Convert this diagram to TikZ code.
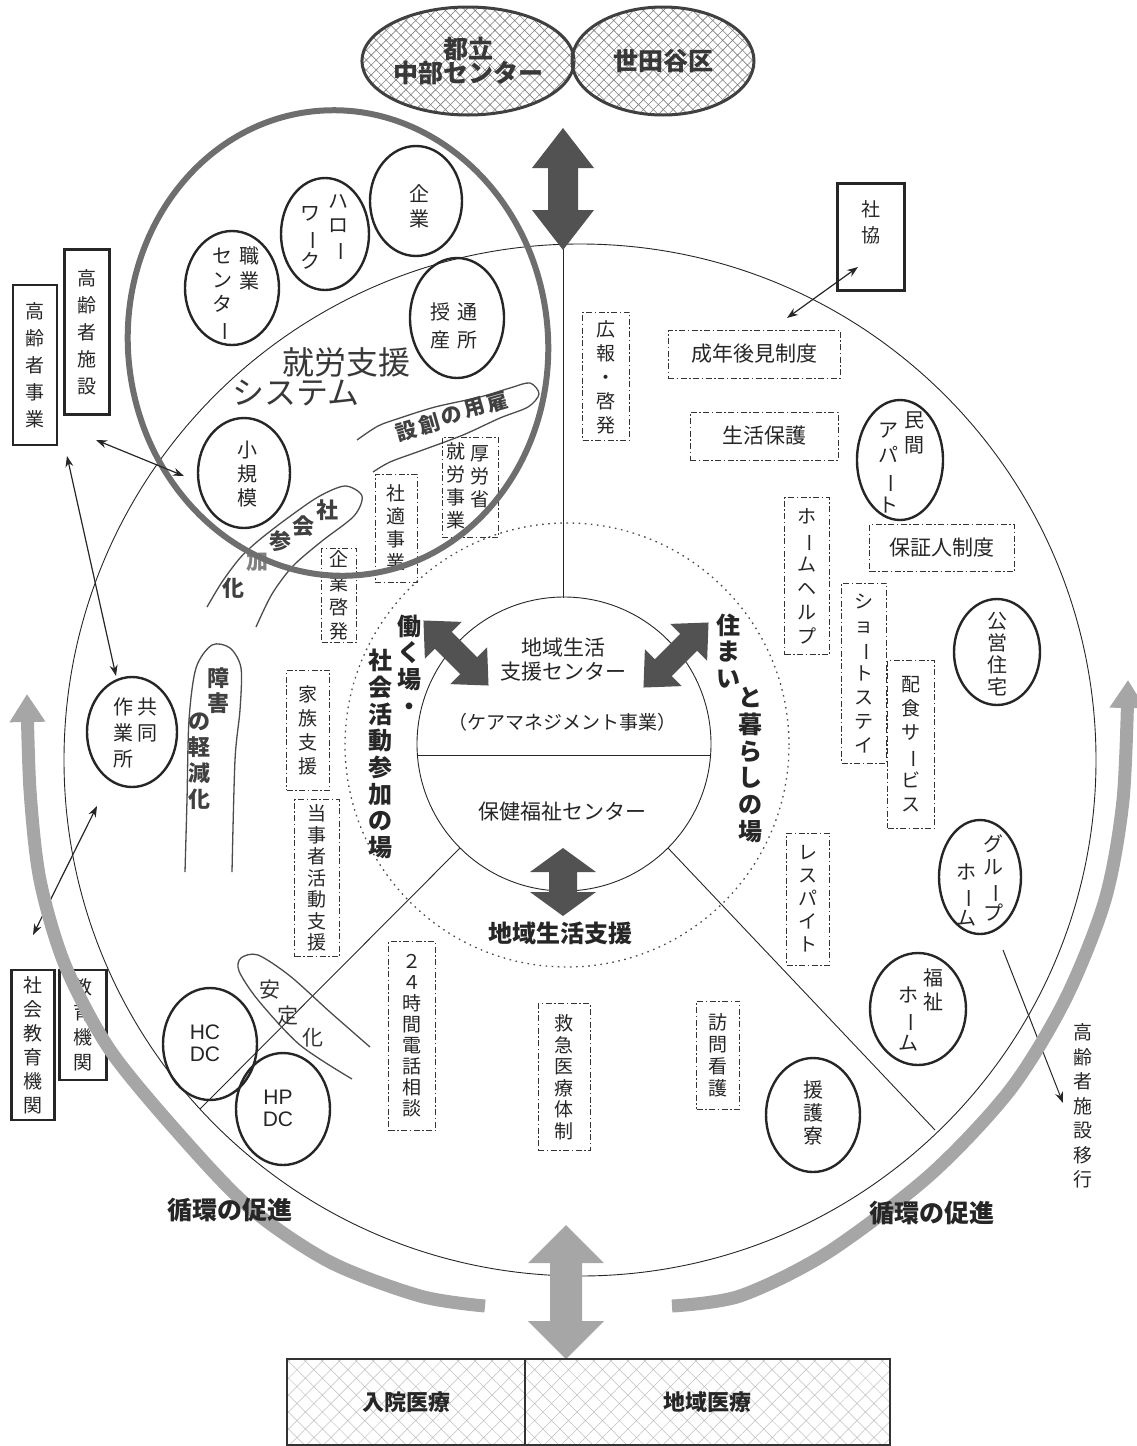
\documentclass[tikz,border=0pt]{standalone}
\usepackage{fontspec}
\usepackage{graphicx}
\usetikzlibrary{shapes.geometric,patterns.meta,arrows.meta}
\newfontfamily\jp{Noto Sans CJK JP}
\newfontfamily\lat{Liberation Sans}
% long vowel mark set upright for vertical writing
\newcommand{\cho}{\rotatebox[origin=c]{-90}{ー}}
% filled double arrow: x, y, angle, length, head length, head width, shaft width, fill
\newcommand{\DblArrow}[8]{%
  \fill[#8,shift={(#1,#2)},rotate=#3]
    ({-(#4)/2},0) -- ({-(#4)/2+(#5)},{(#6)/2}) -- ({-(#4)/2+(#5)},{(#7)/2})
    -- ({(#4)/2-(#5)},{(#7)/2}) -- ({(#4)/2-(#5)},{(#6)/2}) -- ({(#4)/2},0)
    -- ({(#4)/2-(#5)},{-(#6)/2}) -- ({(#4)/2-(#5)},{-(#7)/2})
    -- ({-(#4)/2+(#5)},{-(#7)/2}) -- ({-(#4)/2+(#5)},{-(#6)/2}) -- cycle;}
\begin{document}
\begin{tikzpicture}[x=1pt,y=-1pt,
  vt/.style={inner sep=0pt, align=center, text=black!85, font=\jp\fontsize{19}{#1}\selectfont},
  ct/.style={inner sep=0pt, align=center, text=black!85, font=\jp\fontsize{20}{#1}\selectfont},
  ht/.style={inner sep=0pt, align=center, text=black!85, font=\jp\fontsize{21}{24}\selectfont},
  bl/.style={inner sep=0pt, align=center, text=black!85, font=\jp\bfseries\fontsize{24}{26.7}\selectfont},
  wl/.style={inner sep=0pt, align=center, text=black!75, font=\jp\bfseries\fontsize{22}{25}\selectfont},
  wc/.style={inner sep=0pt, text=black!75, font=\jp\bfseries\fontsize{21}{22}\selectfont, rotate=16},
  dbox/.style={draw=black!80, line width=0.9pt, dash pattern=on 6pt off 2.5pt on 1.5pt off 2.5pt, inner sep=0pt},
  sbox/.style={draw=black!85, line width=2.4pt, inner sep=0pt},
  oval/.style={ellipse, draw=black!85, line width=2.4pt, inner sep=0pt},
  thinline/.style={draw=black!85, line width=0.9pt},
  link/.style={draw=black!85, line width=1.2pt, >={Stealth[length=11pt,width=8pt]}, <->},
  onelink/.style={draw=black!85, line width=1pt, >={Stealth[length=11pt,width=8pt]}, ->},
  band/.style={draw=black!35, line width=13pt, >={Triangle[width=34pt,length=28pt]}, ->},
  wavy/.style={draw=black!70, line width=1.3pt},
  hatchoval/.style={ellipse, draw=black!75, line width=3pt,
    pattern={Hatch[angle=45,distance=7pt,line width=0.6pt]}, pattern color=black!50,
    align=center, inner sep=0pt, text=black!78, font=\jp\bfseries\fontsize{25}{23}\selectfont},
  hatchbox/.style={draw=black!80, line width=2.4pt,
    pattern={Hatch[angle=45,distance=12pt,line width=0.5pt]}, pattern color=black!25,
    inner sep=0pt, text=black!85, font=\jp\bfseries\fontsize{22}{25}\selectfont}
]
\useasboundingbox (0,0) rectangle (1137,1446);

% ---------- circles of the area ----------
\node[circle, draw=black!85, line width=0.9pt, minimum size=1032, inner sep=0pt] (outer) at (580,760) {};
\node[circle, draw=black!70, line width=1.3pt, dash pattern=on 1.6pt off 4.5pt, minimum size=444, inner sep=0pt] (dotc) at (567,745) {};
\node[circle, draw=black!85, line width=0.9pt, minimum size=294, inner sep=0pt] (inner) at (564,744) {};

\coordinate (vtop) at (563,244);
\coordinate (vbot) at (563,598);
\coordinate (llend) at (200,1109);
\coordinate (lrend) at (935,1130);
\coordinate (hl) at (417,755);
\coordinate (hr) at (711,755);
\draw[thinline] (vtop) -- (vbot);
\draw[thinline] (inner.south west) -- (llend);
\draw[thinline] (inner.south east) -- (lrend);
\draw[thinline] (hl) -- (hr);

% ---------- centre ----------
\node[ht] (center1) at (563,660) {地域生活\\支援センター};
\node[inner sep=0pt, text=black!85, font=\jp\fontsize{19}{22}\selectfont] (care) at (562,722) {（ケアマネジメント事業）};
\node[ht] (hoken) at (562,812) {保健福祉センター};

\DblArrow{456}{653}{-45}{92}{28}{52}{24}{black!68}
\DblArrow{676}{655}{45}{92}{28}{52}{24}{black!68}
\DblArrow{563}{882}{90}{68}{24}{66}{28}{black!68}

\node[bl] (work1) at (409,665) {働\\く\\場\\・};
\node[bl] (work2) at (380,754) {社\\会\\活\\動\\参\\加\\の\\場};
\node[bl] (live1) at (728,651) {住\\ま\\い};
\node[bl] (live2) at (750,765) {と\\暮\\ら\\し\\の\\場};
\node[bl] (support) at (560,933) {地域生活支援};

% ---------- top agencies ----------
\node[hatchoval, minimum width=182, minimum height=108] (tori) at (468,61) {都立\\中部センター};
\node[hatchoval, minimum width=182, minimum height=108] (setagaya) at (663,61) {世田谷区};
\DblArrow{563}{189}{90}{122}{40}{62}{30}{black!68}

% ---------- employment area ----------
\node[oval, minimum width=92, minimum height=110] (kigyo) at (416,201) {};
\node[ct=25] (kigyoT) at (419,206) {企\\業};
\node[oval, minimum width=88, minimum height=112] (hello) at (325,234) {};
\node[ct=24] (helloA) at (338,228) {ハ\\ロ\\\cho};
\node[ct=24] (helloB) at (310,238) {ワ\\\cho\\ク};
\node[oval, minimum width=94, minimum height=114] (shokug) at (232,288) {};
\node[ct=25] (shokugA) at (249,268) {職\\業};
\node[ct=24] (shokugB) at (222,295) {セ\\ン\\タ\\\cho};
\node[oval, minimum width=94, minimum height=120] (jusan) at (457,318) {};
\node[ct=28] (jusanA) at (467,326) {通\\所};
\node[ct=28] (jusanB) at (440,326) {授\\産};
\node[inner sep=0pt, text=black!78, font=\jp\fontsize{32}{34}\selectfont] (sys1) at (346,362) {就労支援};
\node[inner sep=0pt, text=black!78, font=\jp\fontsize{32}{34}\selectfont] (sys2) at (296,393) {システム};

% creation of jobs, lettered along the band
\draw[wavy] plot[smooth] coordinates {(357,440) (378,426) (400,418) (435,407) (480,397) (510,388) (530,383) (539,394) (528,407) (500,418) (463,435) (420,451) (390,462) (373,472)};
\node[wc] (koyouA) at (406,431) {設};
\node[wc] (koyouB) at (429,424) {創};
\node[wc] (koyouC) at (452,416) {の};
\node[wc] (koyouD) at (475,408) {用};
\node[wc] (koyouE) at (498,402) {雇};

\node[oval, minimum width=92, minimum height=110] (shokibo) at (244,473) {};
\node[ct=24] (shokiboT) at (247,474) {小\\規\\模};

% social participation
\draw[wavy] plot[smooth] coordinates {(207,607) (222,582) (240,558) (258,541) (285,520) (318,497) (345,486) (362,496) (354,516) (322,541) (293,566) (272,594) (256,627)};
\node[wl] (sankaA) at (327,510) {社};
\node[wl] (sankaB) at (303,526) {会};
\node[wl] (sankaC) at (280,541) {参};
\node[wl, text=black!50] (sankaD) at (257,561) {加};
\node[wl] (sankaE) at (233,588) {化};

\node[dbox, minimum width=56, minimum height=100] (kourou) at (470,487) {};
\node[vt=23] (kourouA) at (480,477) {厚\\労\\省};
\node[vt=23] (kourouB) at (456,486) {就\\労\\事\\業};
\node[dbox, vt=23, minimum width=42, minimum height=108] (shateki) at (396,528) {社\\適\\事\\業};
\node[dbox, vt=24, minimum width=35, minimum height=94] (keihatsu) at (339,595) {企\\業\\啓\\発};

\node[ellipse, draw=black!57, line width=6pt, minimum width=420, minimum height=466, inner sep=0pt, rotate=6] (shuro) at (338,343) {};

% ---------- left outside ----------
\node[sbox, vt=27, minimum width=44, minimum height=160] (kjigyo) at (35,365) {高\\齢\\者\\事\\業};
\node[sbox, vt=27, minimum width=45, minimum height=165] (kshisetsu) at (87,332) {高\\齢\\者\\施\\設};
\node[sbox, vt=24, minimum width=43, minimum height=150] (shakaikyo) at (33,1045) {社\\会\\教\\育\\機\\関};
\node[sbox, vt=25, minimum width=47, minimum height=110] (kyoiku) at (83,1025) {教\\育\\機\\関};

\node[oval, minimum width=90, minimum height=110] (kyodo) at (132,732) {};
\node[ct=26] (kyodoA) at (147,720) {共\\同};
\node[ct=26] (kyodoB) at (123,733) {作\\業\\所};

\draw[wavy] plot[smooth] coordinates {(185,872) (187,800) (189,720) (196,668) (212,645) (230,648) (241,668) (240,710) (235,760) (232,872)};
\node[wl] (shogaiA) at (218,691) {障\\害};
\node[wl, font=\jp\bfseries\fontsize{22}{26}\selectfont] (shogaiB) at (199,761) {の\\軽\\減\\化};

\node[dbox, vt=24, minimum width=43, minimum height=120] (kazoku) at (308,730) {家\\族\\支\\援};
\node[dbox, vt=21.5, minimum width=45, minimum height=157] (tojisha) at (317,878) {当\\事\\者\\活\\動\\支\\援};
\node[dbox, vt=21, minimum width=47, minimum height=189] (denwa) at (412,1036) {２\\４\\時\\間\\電\\話\\相\\談};

\draw[wavy] plot[smooth] coordinates {(370,1047) (330,1012) (290,976) (258,955) (241,958) (239,971) (258,1000) (300,1045) (352,1079)};
\node[inner sep=0pt, text=black!80, font=\jp\fontsize{21}{24}\selectfont] (anteiA) at (270,990) {安};
\node[inner sep=0pt, text=black!80, font=\jp\fontsize{21}{24}\selectfont] (anteiB) at (288,1016) {定};
\node[inner sep=0pt, text=black!80, font=\jp\fontsize{21}{24}\selectfont] (anteiC) at (313,1038) {化};

\node[oval, minimum width=94, minimum height=112] (hcdc) at (210,1044) {};
\node[inner sep=0pt, align=center, text=black!85, font=\lat\fontsize{21}{22}\selectfont] (hcdcT) at (205,1043) {HC\\DC};
\node[oval, minimum width=94, minimum height=112] (hpdc) at (283,1109) {};
\node[inner sep=0pt, align=center, text=black!85, font=\lat\fontsize{21}{22}\selectfont] (hpdcT) at (278,1108) {HP\\DC};

% ---------- lower middle ----------
\node[dbox, vt=21.5, minimum width=52, minimum height=147] (kyukyu) at (564,1077) {救\\急\\医\\療\\体\\制};
\node[dbox, vt=22, minimum width=43, minimum height=108] (houmon) at (718,1055) {訪\\問\\看\\護};
\node[oval, minimum width=94, minimum height=114] (engo) at (813,1115) {};
\node[ct=23] (engoT) at (813,1113) {援\\護\\寮};

% ---------- right side ----------
\node[sbox, minimum width=67, minimum height=107] (shakyo) at (871,237) {};
\node[vt=26] (shakyoT) at (871,222) {社\\協};
\node[dbox, minimum width=47, minimum height=128] (kouhou) at (606,376) {};
\node[vt=24] (kouhouT) at (606,377) {広\\報\\・\\啓\\発};
\node[dbox, ht, minimum width=172, minimum height=48] (seinen) at (754,354) {成年後見制度};
\node[dbox, ht, minimum width=148, minimum height=48] (seikatsu) at (764,436) {生活保護};
\node[dbox, ht, minimum width=145, minimum height=47] (hosho) at (942,548) {保証人制度};

\node[oval, minimum width=86, minimum height=120] (minkan) at (900,460) {};
\node[ct=25] (minkanA) at (914,433) {民\\間};
\node[ct=25] (minkanB) at (888,468) {ア\\パ\\\cho\\ト};

\node[dbox, vt=24, minimum width=45, minimum height=157] (homehelp) at (807,576) {ホ\\\cho\\ム\\ヘ\\ル\\プ};
\node[dbox, vt=24, minimum width=45, minimum height=180] (short) at (864,673) {シ\\ョ\\\cho\\ト\\ス\\テ\\イ};
\node[dbox, vt=24, minimum width=47, minimum height=168] (haishoku) at (911,744) {配\\食\\サ\\\cho\\ビ\\ス};
\node[dbox, vt=23, minimum width=43, minimum height=132] (respite) at (808,899) {レ\\ス\\パ\\イ\\ト};

\node[oval, minimum width=86, minimum height=106] (koei) at (997,652) {};
\node[ct=22] (koeiT) at (997,654) {公\\営\\住\\宅};

\node[oval, minimum width=82, minimum height=114] (group) at (980,877) {};
\node[ct=23] (groupA) at (993,878) {グ\\ル\\\cho\\プ};
\node[ct=23] (groupB) at (966,895) {ホ\\\cho\\ム};

\node[oval, minimum width=96, minimum height=112] (fukushi) at (918,1009) {};
\node[ct=24] (fukushiA) at (933,990) {福\\祉};
\node[ct=24] (fukushiB) at (908,1019) {ホ\\\cho\\ム};

\node[vt=24.5] (ikou) at (1083,1106) {高\\齢\\者\\施\\設\\移\\行};

% ---------- links ----------
\coordinate (k1) at (858,267);
\coordinate (k2) at (787,318);
\draw[link] (k1) -- (k2);
\coordinate (s1) at (96,440);
\coordinate (s2) at (184,476);
\draw[link] (s1) -- (s2);
\coordinate (j1) at (67,456);
\coordinate (j2) at (116,676);
\draw[link] (j1) -- (j2);
\coordinate (e1) at (97,806);
\coordinate (e2) at (33,935);
\draw[link] (e1) -- (e2);
\coordinate (g1) at (1003,950);
\coordinate (g2) at (1063,1103);
\draw[onelink] (g1) -- (g2);

% ---------- circulation bands ----------
\coordinate (lb) at (485,1306);
\coordinate (lt) at (27,694);
\coordinate (rb) at (672,1306);
\coordinate (rt) at (1128,680);
\draw[band] plot[smooth] coordinates {(lb) (420,1296) (330,1262) (250,1208) (180,1135) (110,1050) (65,965) (40,880) (30,790) (lt)};
\draw[band] plot[smooth] coordinates {(rb) (740,1296) (827,1253) (930,1175) (1010,1090) (1065,1000) (1105,900) (1123,800) (rt)};
\node[inner sep=0pt, text=black!85, font=\jp\bfseries\fontsize{25}{26}\selectfont] (junkanL) at (230,1210) {循環の促進};
\node[inner sep=0pt, text=black!85, font=\jp\bfseries\fontsize{25}{26}\selectfont] (junkanR) at (932,1213) {循環の促進};

\DblArrow{566}{1292}{90}{134}{38}{76}{32}{black!35}

% ---------- medical care ----------
\node[hatchbox, minimum width=238, minimum height=86] (nyuin) at (406,1402) {入院医療};
\node[hatchbox, minimum width=365, minimum height=86] (chiikiIryo) at (707.5,1402) {地域医療};
\end{tikzpicture}
\end{document}
